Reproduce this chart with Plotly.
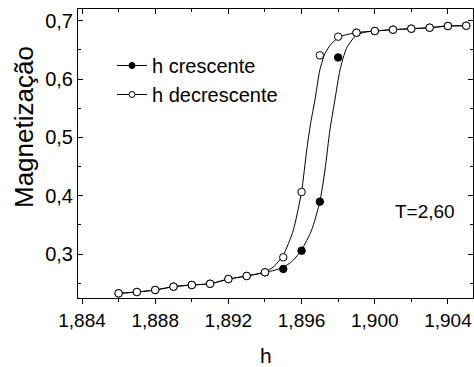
import plotly.graph_objects as go

# Data points
h_pts = [1.886, 1.887, 1.888, 1.889, 1.890, 1.891, 1.892, 1.893, 1.894,
         1.895, 1.896, 1.897, 1.898, 1.899, 1.900, 1.901, 1.902, 1.903, 1.904, 1.905]
m_cresc = [0.2326, 0.2348, 0.2383, 0.2440, 0.2469, 0.2490, 0.2570, 0.2623, 0.2686,
           0.2743, 0.3057, 0.3898, 0.6370, 0.6794, 0.6823, 0.6846, 0.6863, 0.6880, 0.6909, 0.6914]
m_decresc = [0.2326, 0.2348, 0.2383, 0.2440, 0.2469, 0.2490, 0.2570, 0.2623, 0.2686,
             0.2943, 0.4063, 0.6406, 0.6726, 0.6794, 0.6823, 0.6846, 0.6863, 0.6880, 0.6909, 0.6914]

# Fitted curves
fit_dec_x = [1.886, 1.887, 1.888, 1.889, 1.890, 1.891, 1.892, 1.893, 1.894, 1.8945,
             1.8950, 1.89555, 1.8960, 1.89628, 1.89650, 1.89673, 1.8970, 1.89728,
             1.89764, 1.8981, 1.8990, 1.900, 1.901, 1.902, 1.903, 1.904, 1.905]
fit_dec_y = [0.2326, 0.2348, 0.2383, 0.2440, 0.2469, 0.2490, 0.2570, 0.2623, 0.2690, 0.2790,
             0.2980, 0.3410, 0.4070, 0.4780, 0.5250, 0.5640, 0.6156, 0.6440,
             0.6610, 0.6727, 0.6796, 0.6823, 0.6846, 0.6863, 0.6880, 0.6909, 0.6914]
fit_cre_x = [1.886, 1.887, 1.888, 1.889, 1.890, 1.891, 1.892, 1.893, 1.894, 1.8945,
             1.8950, 1.8955, 1.8960, 1.89655, 1.8970, 1.89728, 1.89755, 1.89782,
             1.8981, 1.89846, 1.8990, 1.8995, 1.900, 1.901, 1.902, 1.903, 1.904, 1.905]
fit_cre_y = [0.2326, 0.2348, 0.2383, 0.2440, 0.2469, 0.2490, 0.2570, 0.2623, 0.2686, 0.2720,
             0.2771, 0.2880, 0.3069, 0.3410, 0.3900, 0.4440, 0.5130, 0.5640,
             0.6156, 0.6530, 0.6756, 0.6805, 0.6823, 0.6846, 0.6863, 0.6880, 0.6909, 0.6914]

x_ticks = [1.884, 1.888, 1.892, 1.896, 1.900, 1.904]
x_ticklabels = ["1,884", "1,888", "1,892", "1,896", "1,900", "1,904"]
y_ticks = [0.3, 0.4, 0.5, 0.6, 0.7]
y_ticklabels = ["0,3", "0,4", "0,5", "0,6", "0,7"]

FONT = "Liberation Sans, Arial, sans-serif"
xr = [1.88378, 1.90537]
yr = [0.22457, 0.72006]

W, H = 474, 367
l, r, t, b = 78, 1, 9, 69
pw, ph = W - l - r, H - t - b


def px2paper(px, py):
    return (px - l) / pw, 1 - (py - t) / ph


fig = go.Figure()
line_style = dict(color="black", width=1)
fig.add_trace(go.Scatter(x=fit_dec_x, y=fit_dec_y, mode="lines", line=dict(**line_style, shape="spline", smoothing=0.6),
                         showlegend=False, hoverinfo="skip"))
fig.add_trace(go.Scatter(x=fit_cre_x, y=fit_cre_y, mode="lines", line=dict(**line_style, shape="spline", smoothing=0.6),
                         showlegend=False, hoverinfo="skip"))
fig.add_trace(go.Scatter(x=h_pts, y=m_cresc, mode="markers",
                         marker=dict(symbol="circle", size=7.5, color="black", line=dict(color="black", width=1)),
                         showlegend=False))
fig.add_trace(go.Scatter(x=h_pts, y=m_decresc, mode="markers",
                         marker=dict(symbol="circle", size=7.5, color="white", line=dict(color="black", width=1)),
                         showlegend=False))
# legend entries
fig.add_trace(go.Scatter(x=[None], y=[None], mode="lines+markers", name="h crescente",
                         line=line_style, marker=dict(size=6, color="black", line=dict(color="black", width=1))))
fig.add_trace(go.Scatter(x=[None], y=[None], mode="lines+markers", name="h decrescente",
                         line=line_style, marker=dict(size=6, color="white", line=dict(color="black", width=1))))
# top axis carrier
fig.add_trace(go.Scatter(x=[None], y=[None], xaxis="x2", showlegend=False))

ann = []
for text, px, py, size, angle in [("T=2,60", 425, 211, 19, 0),
                                  ("h", 266, 355, 21, 0),
                                  ("Magnetização", 24, 127, 26, -90)]:
    xp, yp = px2paper(px, py)
    ann.append(dict(text=text, x=xp, y=yp, xref="paper", yref="paper", xanchor="center",
                    yanchor="middle", showarrow=False, textangle=angle, font=dict(size=size)))

fig.update_layout(
    width=W, height=H,
    margin=dict(l=l, r=r, t=t, b=b),
    paper_bgcolor="white", plot_bgcolor="white",
    font=dict(family=FONT, color="black", size=18),
    xaxis=dict(range=xr, tickvals=x_ticks, ticktext=x_ticklabels, ticks="outside", ticklen=5,
               tickwidth=1, tickcolor="black", showline=True, linecolor="black", linewidth=1,
               showgrid=False, zeroline=False, tickfont=dict(size=19),
               minor=dict(dtick=0.002, tick0=1.884, ticks="outside", ticklen=3, tickcolor="black")),
    xaxis2=dict(range=xr, overlaying="x", side="top", tickvals=x_ticks, showticklabels=False,
                ticks="inside", ticklen=5, tickcolor="black", showline=True, linecolor="black",
                linewidth=1, showgrid=False, zeroline=False,
                minor=dict(dtick=0.002, tick0=1.884, ticks="inside", ticklen=3, tickcolor="black")),
    yaxis=dict(range=yr, tickvals=y_ticks, ticktext=y_ticklabels, ticks="inside", ticklen=5,
               tickwidth=1, tickcolor="black", showline=True, linecolor="black", linewidth=1,
               mirror="ticks", showgrid=False, zeroline=False, tickfont=dict(size=20),
               minor=dict(dtick=0.05, tick0=0.25, ticks="inside", ticklen=3, tickcolor="black")),
    legend=dict(x=0.086, y=0.872, xanchor="left", yanchor="top", bgcolor="rgba(0,0,0,0)",
                font=dict(size=20), tracegroupgap=0, itemwidth=30),
    annotations=ann,
)

fig.write_html("out.html")
